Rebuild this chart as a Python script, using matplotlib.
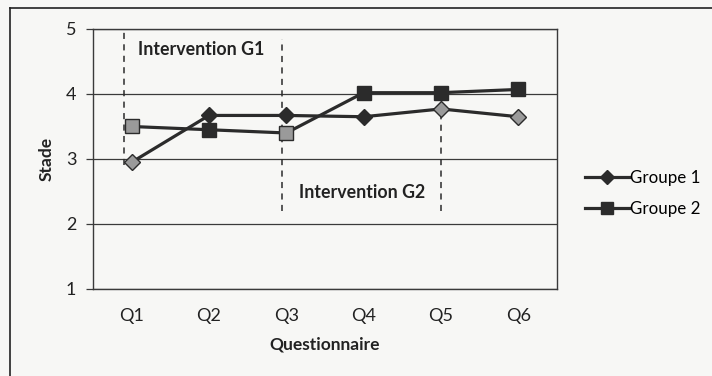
import matplotlib
matplotlib.use("Agg")
import matplotlib.pyplot as plt
from matplotlib.lines import Line2D

plt.rcParams['font.family'] = ['Lato', 'DejaVu Sans']

categories = ["Q1", "Q2", "Q3", "Q4", "Q5", "Q6"]
groupe1 = [2.95, 3.67, 3.67, 3.65, 3.77, 3.65]
groupe2 = [3.50, 3.45, 3.40, 4.02, 4.02, 4.07]
yticks = [1, 2, 3, 4, 5]

# intervention periods: (x position, y bottom, y top)
bounds = [(-0.10, 2.9, 5.0), (1.95, 2.2, 4.85), (4.0, 2.2, 3.95)]
labels = [("Intervention G1", 0.90, 4.68), ("Intervention G2", 2.98, 2.48)]

dark = "#2b2b2b"
grey = "#9a9a9a"
g1_faces = [grey, dark, dark, dark, grey, grey]
g2_faces = [grey, dark, grey, dark, dark, dark]

fig = plt.figure(figsize=(7.12, 3.76), dpi=100, facecolor="#f7f7f5")
ax = fig.add_axes([0.1306, 0.2314, 0.6517, 0.6915])
ax.set_facecolor("#f7f7f5")

x = list(range(len(categories)))
ax.plot(x, groupe1, color=dark, lw=2.3, zorder=3)
ax.plot(x, groupe2, color=dark, lw=2.3, zorder=3)
for xi, yi, fc in zip(x, groupe1, g1_faces):
    ax.plot(xi, yi, marker="D", ms=8, mfc=fc, mec=dark, mew=1.0, zorder=4)
for xi, yi, fc in zip(x, groupe2, g2_faces):
    ax.plot(xi, yi, marker="s", ms=10, mfc=fc, mec=dark, mew=1.0, zorder=4)

for bx, y0, y1 in bounds:
    ax.plot([bx, bx], [y0, y1], color=dark, lw=1.1, ls=(0, (4, 3.5)), zorder=2)
for txt, tx, ty in labels:
    ax.text(tx, ty, txt, ha="center", va="center", fontsize=12.8,
            fontweight="bold", color="#222222")

ax.set_xlim(-0.5, len(categories) - 0.5)
ax.set_ylim(1, 5)
ax.set_yticks(yticks)
ax.set_xticks(x)
ax.set_xticklabels(categories)
ax.yaxis.grid(True, color="#3a3a3a", lw=0.9)
ax.set_axisbelow(True)
ax.tick_params(axis="x", length=0, pad=14, labelsize=13, colors="#222222")
ax.tick_params(axis="y", length=5, width=0.9, color="#3a3a3a", pad=7,
               labelsize=13, labelcolor="#222222")
for s in ax.spines.values():
    s.set_color("#3a3a3a")
    s.set_linewidth(1.0)
ax.set_xlabel("Questionnaire", fontsize=12.5, fontweight="bold", color="#222222", labelpad=9)
ax.set_ylabel("Stade", fontsize=12.5, fontweight="bold", color="#222222", labelpad=8)

handles = [
    Line2D([], [], color=dark, lw=2.3, marker="D", ms=7, mfc=dark, mec=dark),
    Line2D([], [], color=dark, lw=2.3, marker="s", ms=9, mfc=dark, mec=dark),
]
fig.legend(handles, ["Groupe 1", "Groupe 2"], loc="center left",
           bbox_to_anchor=(0.8, 0.485), frameon=False, fontsize=12.2,
           handlelength=2.6, handletextpad=0.05, labelspacing=0.9)

# outer chart frame
fig.add_artist(Line2D([10 / 712, 10 / 712], [0, 1 - 8 / 376],
                      transform=fig.transFigure, color="#222222", lw=1.2))
fig.add_artist(Line2D([10 / 712, 1], [1 - 8 / 376, 1 - 8 / 376],
                      transform=fig.transFigure, color="#222222", lw=1.2))

fig.savefig("out.png", dpi=100, facecolor=fig.get_facecolor())
